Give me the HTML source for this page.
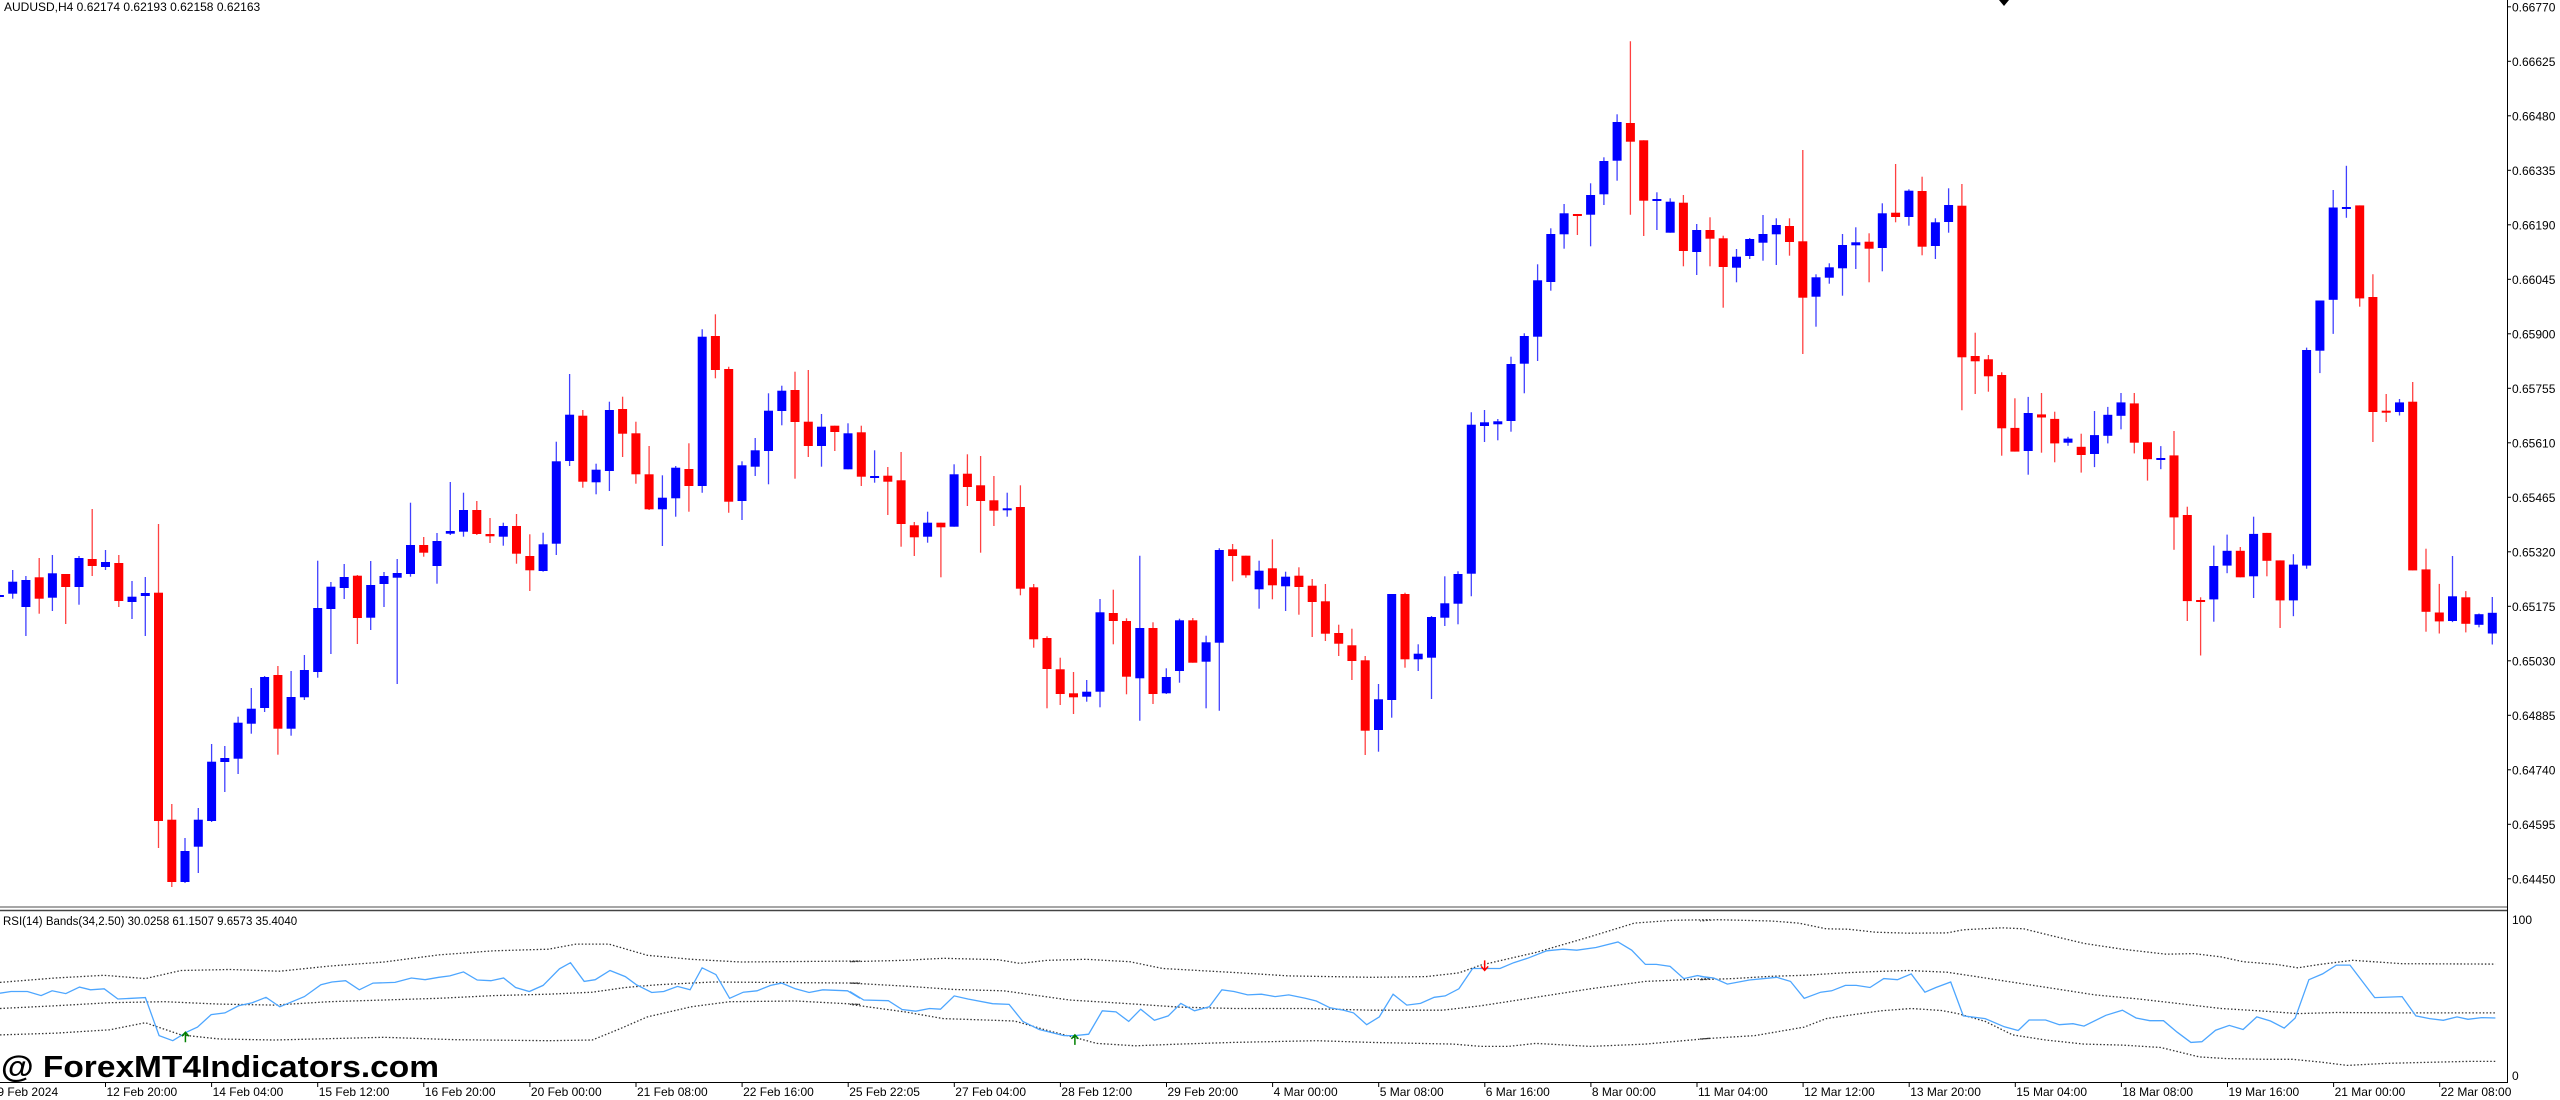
<!DOCTYPE html>
<html><head><meta charset="utf-8"><style>
html,body{margin:0;padding:0;background:#fff;}
svg{display:block;}
text{font-family:"Liberation Sans",sans-serif;}
</style></head><body>
<svg id="s" width="2560" height="1100" xmlns="http://www.w3.org/2000/svg">
<rect width="2560" height="1100" fill="#fff"/>
<g id="candles"></g>
<g id="ind" fill="none"></g>
<line x1="2507.5" y1="0" x2="2507.5" y2="1083" stroke="#000" stroke-width="1"/>
<line x1="0" y1="907" x2="2507" y2="907" stroke="#888" stroke-width="1.5"/>
<line x1="0" y1="910.5" x2="2507" y2="910.5" stroke="#444" stroke-width="1.5"/>
<line x1="0" y1="1082.5" x2="2507" y2="1082.5" stroke="#000" stroke-width="1"/>
<text x="4" y="11" font-size="12" fill="#000">AUDUSD,H4  0.62174 0.62193 0.62158 0.62163</text>
<text x="3" y="925" font-size="11.5" fill="#000">RSI(14) Bands(34,2.50) 30.0258 61.1507 9.6573 35.4040</text>
<polygon points="1999,0 2009,0 2004,6" fill="#000"/>
<g id="yax" font-size="12" fill="#000"></g>
<g id="xax" font-size="12" fill="#000"></g>
<text x="2512" y="924" font-size="12">100</text>
<text x="2512" y="1080" font-size="12">0</text>
<text x="1" y="1077" font-size="31" font-weight="bold" fill="#000" textLength="438" lengthAdjust="spacingAndGlyphs">@ ForexMT4Indicators.com</text>
</svg>
<script>
var D=[
[595,597,593,599,'b'],[581.7,593.7,570,598.7,'b'],[580,607,576,636,'b'],[577.3,598.7,558,613.7,'r'],[573.3,597.7,555,611,'b'],
[574,587,574,624,'r'],[558,587,556,604.7,'b'],[559,566,509,576,'r'],[562,567,550,570,'b'],[563,601,555,607,'r'],
[596.7,602,581,619,'b'],[593,596,577,636,'b'],[592.7,821,524,848,'r'],[819.7,882,804,887,'r'],[851,882,838,883,'b'],
[819.7,846.7,808,873,'b'],[761.7,821,744,822,'b'],[758,762,746,792,'b'],[722.7,758.7,716.7,774,'b'],[708.7,723.7,688,733.7,'b'],
[677,708,676,712,'b'],[675,728.7,666,754.7,'r'],[697,728.7,671,735.7,'b'],[670,697.3,655,700,'b'],[608,672,560.7,677.7,'b'],
[586.7,609,582,654,'b'],[577,588,564,599,'b'],[575.7,618,575,644,'r'],[585,617.7,561,630,'b'],[576,584,572,607,'b'],
[573,577.7,559,684,'b'],[545,574,502.7,576.7,'b'],[545,552.7,537,556.7,'r'],[541,566,533,583.7,'b'],[531,533.7,482,535,'b'],
[510,531.7,492.7,536.7,'b'],[510,534,501,535,'r'],[534,536.3,518,543,'r'],[526,536.7,522.7,545.7,'b'],[526,553.7,514,563.7,'r'],
[556,570.3,534.3,591,'r'],[544.3,571,532.7,571.7,'b'],[461.3,543.7,441.7,555,'b'],[414.7,461,374,466,'b'],[415.7,481.7,410,487.7,'r'],
[469.7,482.3,463.7,494.3,'b'],[410,471,401.7,491,'b'],[409,433.7,396.7,457,'r'],[433.3,474.3,421.7,483.7,'r'],[474.3,509.3,446,510,'r'],
[497.7,509.3,475.3,546,'b'],[467.7,498.3,466,516.7,'b'],[469,486,443.3,511.7,'r'],[336.7,486,329.3,492.7,'b'],[336,370,314.3,378.3,'r'],
[369,501.7,366.7,512.7,'r'],[465.3,501,461.3,520,'b'],[450.3,466.7,438,476,'b'],[410.7,451,393.3,484.3,'b'],[390.7,411,385.7,425.3,'b'],
[390,422,371.7,478.7,'r'],[421.7,446,370,457,'r'],[426.7,446,414,466.7,'b'],[425.7,432,425.7,451,'r'],[433.3,469.3,423.3,469.3,'b'],
[432.3,476.7,425.7,486,'r'],[476,477.5,450.3,482.7,'b'],[475.7,481.7,467,515,'r'],[480.3,524,452,546.7,'r'],[525.3,537.3,522,556,'r'],
[522.7,536.7,511.7,542.7,'b'],[522.7,527.3,522.7,577.3,'r'],[474.3,526.7,464.3,526.7,'b'],[473.7,487,454.3,506,'r'],[485.3,501,456,552.7,'r'],
[500.3,510.7,476,526,'r'],[508.3,510.3,492.7,516.7,'b'],[507,588.7,485.3,595.3,'r'],[587.3,639.3,584,647.7,'r'],[638,669,636.3,708.3,'r'],
[669.3,694,657.7,705,'r'],[693.3,697.3,672,714,'r'],[691.7,696.7,680,701.7,'b'],[612.3,691.7,599,707.3,'b'],[613,621,589.7,644.3,'r'],
[621,676.7,618.3,694.3,'r'],[628,678.3,555.7,720.7,'b'],[628,694,622.3,704,'r'],[677,693.3,668.3,694,'b'],[620.3,671,618.7,682.7,'b'],
[620.3,662.7,618,662.7,'r'],[642.3,661.7,635.7,708.3,'b'],[550,642.7,548.3,710.7,'b'],[549.3,556,544,581.3,'r'],[555.7,575.3,555.7,577.7,'r'],
[570.7,589.3,560.7,608.7,'b'],[568.3,585.3,539.3,599.3,'r'],[576.7,586.3,571.7,611,'b'],[575.7,587,567.3,614.7,'r'],[585.7,602,579,637,'r'],
[601.3,633.7,584,641,'r'],[633,643.7,624.7,656,'r'],[645.3,661,628.7,680,'r'],[660.3,730.7,656,755,'r'],[699.3,730,684,751.7,'b'],
[594,700,594,717.7,'b'],[594,659.3,592.7,667.7,'r'],[653.7,659.3,644.3,671,'b'],[617,657.7,616,699,'b'],[603.3,617.7,576.3,626,'b'],
[574,603.7,571.3,624.3,'b'],[424.7,573.7,412.3,596.3,'b'],[422.3,426,410,442,'b'],[421.3,424.3,419,440.3,'b'],[364,421,356.7,431.7,'b'],
[336,363.7,333.3,393.3,'b'],[280.3,336.7,264.3,361,'b'],[234,282,228.3,290.7,'b'],[213.3,234.3,204,248.7,'b'],[214,216,214,235,'r'],
[195,214.7,183.3,246.3,'b'],[161,194.3,157.3,205,'b'],[122,160.7,114.3,180.7,'b'],[123,141.7,41.3,214.7,'r'],[140.3,200.7,140.3,236,'r'],
[199,200.7,192.3,230,'b'],[201.7,232.7,198.3,232.7,'b'],[202.7,251,195,266.3,'r'],[230,252,224,275,'b'],[230,238.7,217.3,266.3,'r'],
[238.3,267,235.7,307.7,'r'],[256.7,267.7,249,282.3,'b'],[239,256,238,259,'b'],[234,242.7,215,260.7,'b'],[225,234.3,218.3,265,'b'],
[226,242,218.3,255.7,'r'],[241.3,297.7,150,354,'r'],[277.3,296.7,274.3,326.7,'b'],[267.3,277.7,263.3,283.7,'b'],[245,268.3,234,295.7,'b'],
[242.3,245.3,227.3,269,'b'],[241.7,248.7,233.3,282.3,'r'],[213.3,248,203.3,271.3,'b'],[212.7,217,164,222.3,'r'],[190.7,217,189.3,225.7,'b'],
[191,246.7,176.7,255.3,'r'],[222.3,246,218.3,259,'b'],[205,222,188.3,232.7,'b'],[205.7,357.3,184,410.3,'r'],[356,361.3,332.7,394,'r'],
[359.3,376.3,355,391.7,'r'],[375,428.3,372.3,455.7,'r'],[427.9,451.6,398.3,451.6,'r'],[413,451,396.9,474.7,'b'],[414.4,417.5,393,452.7,'r'],
[418.9,443.4,411.7,462.3,'r'],[438.6,442.7,436.8,445.8,'b'],[446.8,455,433.7,472.6,'r'],[435.1,454,411,467.1,'b'],[414.8,435.8,406.9,443.4,'b'],
[402.4,415.8,393,429.3,'b'],[403.4,442.7,393,453.4,'r'],[442.3,459.2,442.3,480.6,'r'],[458,459.5,446.1,469.2,'b'],[455.4,517.4,431,549.8,'r'],
[515,601.1,506.7,621,'r'],[600,601.5,597.3,655.5,'r'],[566,599.4,545.6,621.7,'b'],[550.8,565.6,534.6,573.2,'b'],[550.8,577.3,547,577.3,'r'],
[533.9,576.3,516.7,598,'b'],[532.9,560.8,532.9,576.3,'r'],[560.4,600.4,560.4,628,'r'],[564.6,600.4,554.2,616.2,'b'],[350,565.6,347.6,568.7,'b'],
[300.5,350.7,300.5,373.1,'b'],[207.5,299.8,190,333.9,'b'],[207,208.5,165.8,217.8,'b'],[205.4,298.4,205.4,306.7,'r'],[297,412,274.3,442,'r'],
[410.7,412.7,394,422,'r'],[402.4,412,399,415.5,'b'],[401.7,570.4,382,570.4,'r'],[569.4,611.8,548.7,631.7,'r'],[612.5,621.4,583.9,633.5,'r'],
[596.3,621,556,622.1,'b'],[597.3,623.8,591.1,632.4,'r'],[614.2,624.8,613.5,627.3,'b'],[612.8,633.5,597,644.5,'b']
];
var h="";
for(var i=0;i<D.length;i++){var d=D[i],x=-0.59+13.26*i,c=d[4]=='b'?'#0000ff':'#ff0000';
h+='<line x1="'+x.toFixed(1)+'" y1="'+d[2]+'" x2="'+x.toFixed(1)+'" y2="'+d[3]+'" stroke="'+c+'" stroke-width="1.3" stroke-opacity="0.75"/>';
var bh=Math.max(d[1]-d[0],2);
h+='<rect x="'+(x-4.5).toFixed(1)+'" y="'+d[0]+'" width="9" height="'+bh.toFixed(1)+'" fill="'+c+'"/>';}
document.getElementById('candles').innerHTML=h;
var L=['0.66770','0.66625','0.66480','0.66335','0.66190','0.66045','0.65900','0.65755','0.65610','0.65465','0.65320','0.65175','0.65030','0.64885','0.64740','0.64595','0.64450'];
var ya="";for(var k=0;k<L.length;k++){var y=6.8+54.5*k;ya+='<line x1="2507" x2="2511" y1="'+y+'" y2="'+y+'" stroke="#000"/><text x="2512" y="'+(y+4.5)+'">'+L[k]+'</text>';}
document.getElementById('yax').innerHTML=ya;
var T=['9 Feb 2024','12 Feb 20:00','14 Feb 04:00','15 Feb 12:00','16 Feb 20:00','20 Feb 00:00','21 Feb 08:00','22 Feb 16:00','25 Feb 22:05','27 Feb 04:00','28 Feb 12:00','29 Feb 20:00','4 Mar 00:00','5 Mar 08:00','6 Mar 16:00','8 Mar 00:00','11 Mar 04:00','12 Mar 12:00','13 Mar 20:00','15 Mar 04:00','18 Mar 08:00','19 Mar 16:00','21 Mar 00:00','22 Mar 08:00'];
var xa="";for(var k=0;k<T.length;k++){var x=-0.6+106.1*k;xa+='<line x1="'+x+'" x2="'+x+'" y1="1082" y2="1087" stroke="#000"/><text x="'+(x+(k==0?-2:1))+'" y="'+1096+'">'+T[k]+'</text>';}
document.getElementById('xax').innerHTML=xa;
function P(arr,ox){var s="";for(var i=0;i<arr.length;i+=2){s+=(ox+arr[i]/1.823).toFixed(1)+","+(900+arr[i+1]/2.95).toFixed(1)+" ";}return s;}
var up1=[0,243,100,230,190,222,265,232,330,208,420,205,510,210,600,195,700,183,800,162,900,150,1000,145,1050,130,1110,130,1180,163,1260,175,1350,183,1568,180];
var md1=[0,320,100,312,200,303,300,300,400,307,500,310,600,300,700,295,800,290,900,282,1000,278,1080,272,1140,258,1200,250,1300,242,1568,245];
var lo1=[0,398,100,393,200,383,265,362,330,398,400,410,500,413,700,405,830,412,1000,415,1080,413,1130,380,1180,345,1260,315,1330,300,1450,298,1568,308];
var rs1=[0,275,20,270,50,270,75,282,95,268,120,276,145,257,165,265,190,262,215,292,265,288,290,400,315,415,340,390,360,375,385,338,410,333,435,312,460,303,485,287,510,315,555,285,585,250,605,242,630,238,655,265,680,245,720,243,750,230,775,235,800,228,820,224,845,212,870,236,895,238,918,230,940,258,965,270,990,252,1020,203,1040,185,1065,240,1085,235,1112,208,1140,226,1160,250,1188,273,1210,270,1235,255,1258,265,1280,200,1305,220,1330,290,1355,272,1380,268,1405,252,1425,245,1450,262,1475,273,1500,265,1545,268,1568,290];
var up2=[0,182,100,178,170,172,270,176,310,187,360,178,430,175,510,182,570,202,700,214,800,224,950,228,1050,226,1110,215,1150,192,1250,155,1350,108,1430,68,1500,60,1568,58];
var md2=[0,245,100,254,190,264,280,268,400,295,500,305,600,316,700,320,830,320,950,325,1080,325,1150,312,1250,287,1350,262,1450,240,1568,232];
var lo2=[0,308,100,330,170,350,300,357,360,385,420,410,450,423,520,430,600,425,700,420,850,415,950,420,1100,425,1150,432,1200,432,1250,423,1350,432,1450,425,1568,408];
var rs2=[0,270,25,295,70,297,95,323,120,328,145,320,165,322,190,283,215,292,260,306,290,308,315,358,345,382,390,400,410,400,435,396,460,327,485,330,508,358,530,322,555,355,580,342,603,305,628,327,655,315,678,265,700,270,725,280,750,278,775,285,800,280,830,290,850,298,875,318,900,325,918,333,942,368,965,345,990,278,1015,310,1040,305,1065,287,1085,283,1110,262,1135,202,1185,202,1210,185,1235,172,1270,150,1300,145,1325,148,1360,140,1400,124,1425,148,1450,190,1470,190,1495,196,1520,232,1545,223,1568,230];
var up3=[0,62,30,58,130,62,180,68,230,85,270,86,320,95,380,98,450,97,480,88,550,82,590,85,640,105,700,128,770,145,850,160,900,158,950,168,990,182,1050,190,1090,200,1130,190,1190,178,1280,188,1450,189];
var md3=[0,235,60,232,130,225,190,222,260,215,320,211,380,208,450,213,500,225,560,240,640,260,720,280,800,292,870,305,950,320,1030,328,1090,335,1160,332,1280,333,1450,333];
var lo3=[0,410,100,400,190,375,230,350,280,338,330,327,385,320,440,326,470,335,520,358,570,398,630,413,700,425,770,428,840,435,910,463,960,468,1030,470,1080,470,1130,478,1180,488,1250,482,1300,480,1400,476,1450,476];
var rs3=[0,225,25,230,50,248,90,236,140,228,165,240,190,290,220,272,240,268,265,252,285,252,310,258,335,232,360,235,385,218,410,272,430,258,457,242,480,342,520,350,555,374,580,385,600,354,630,354,655,368,680,365,700,372,740,340,770,325,795,348,820,356,845,356,870,390,895,420,915,418,940,384,965,370,990,382,1015,345,1040,357,1065,378,1085,348,1110,235,1135,218,1160,192,1185,192,1230,288,1280,285,1305,342,1330,350,1355,355,1380,345,1400,352,1425,347,1450,348];
function J(a,b,c,oa,ob,oc){return P(a,oa)+P(b,ob)+P(c,oc);}
var g="";
var dots='stroke="#333" stroke-width="1.3" stroke-dasharray="1.5,2"';
g+='<polyline points="'+J(up1,up2,up3,0,850,1700)+'" '+dots+'/>';
g+='<polyline points="'+J(md1,md2,md3,0,850,1700)+'" '+dots+'/>';
g+='<polyline points="'+J(lo1,lo2,lo3,0,850,1700)+'" '+dots+'/>';
g+='<polyline points="'+J(rs1,rs2,rs3,0,850,1700)+'" stroke="#4da6ff" stroke-width="1.3"/>';
var ax=338/1.823, ay=900+390/2.95;
g+='<path d="M'+ax+' '+(ay+10)+' V'+ay+' M'+(ax-3.5)+' '+(ay+4)+' L'+ax+' '+ay+' L'+(ax+3.5)+' '+(ay+4)+'" stroke="#008000" stroke-width="1.5"/>';
var bx=850+410/1.823, by=900+398/2.95;
g+='<path d="M'+bx+' '+(by+10)+' V'+by+' M'+(bx-3.5)+' '+(by+4)+' L'+bx+' '+by+' L'+(bx+3.5)+' '+(by+4)+'" stroke="#008000" stroke-width="1.5"/>';
var rx=850+1157/1.823, ry=900+178/2.95;
g+='<path d="M'+rx+' '+ry+' V'+(ry+10)+' M'+(rx-3.5)+' '+(ry+6)+' L'+rx+' '+(ry+10)+' L'+(rx+3.5)+' '+(ry+6)+'" stroke="#ff0000" stroke-width="1.5"/>';
document.getElementById('ind').innerHTML=g;
</script>
</body></html>
